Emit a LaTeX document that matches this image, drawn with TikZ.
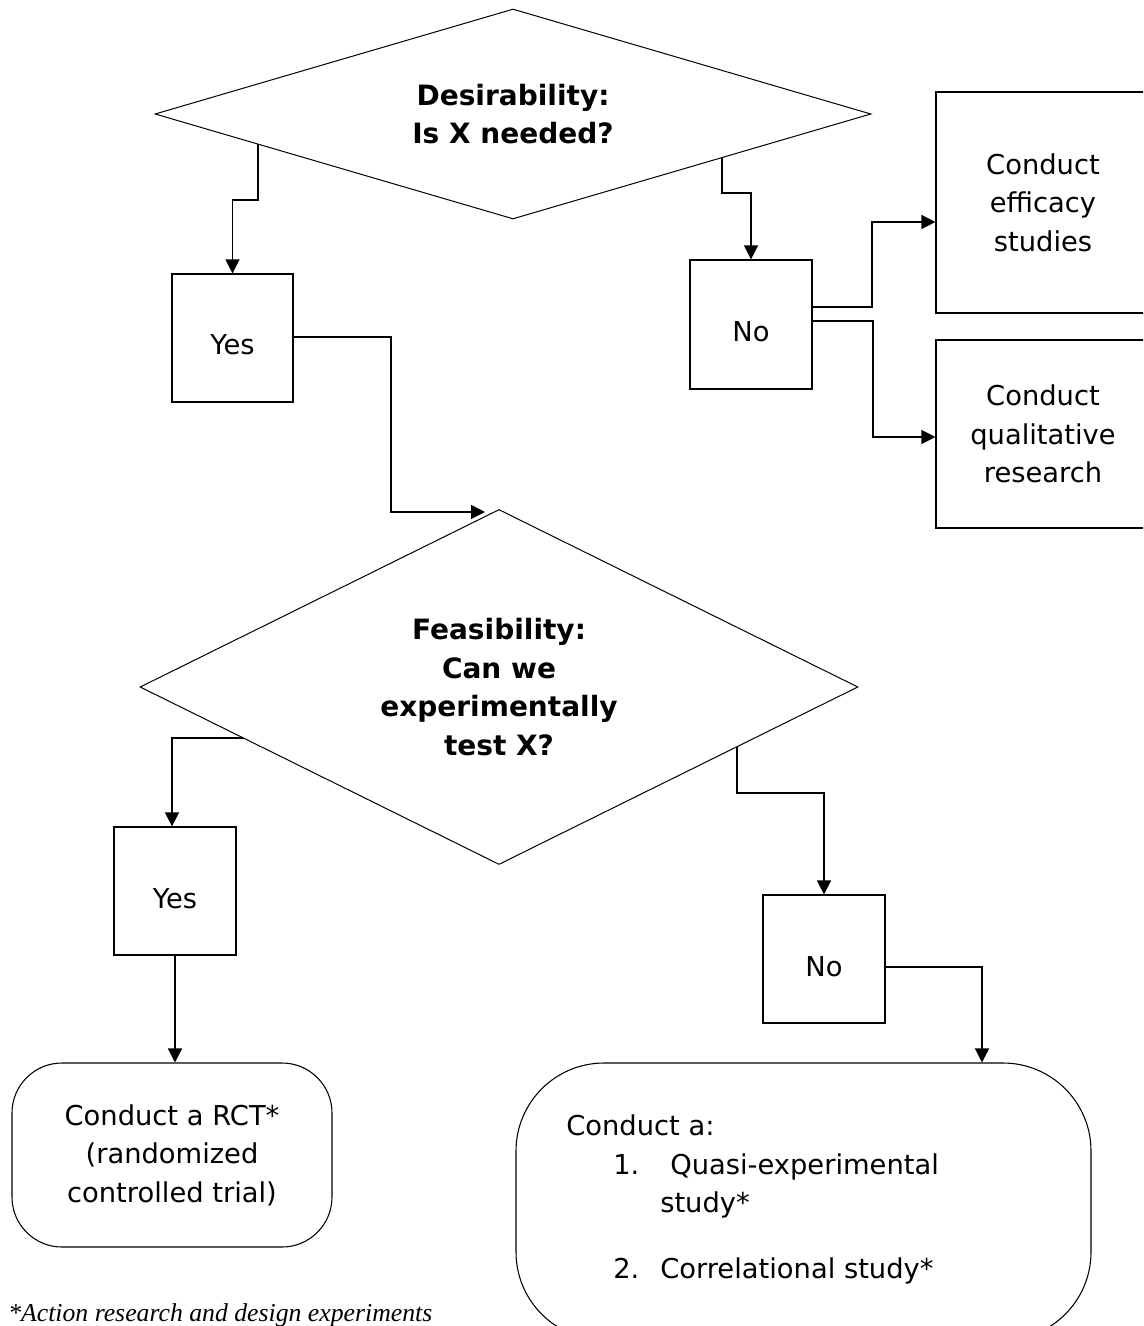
\documentclass[tikz,border=0pt]{standalone}
\usepackage{fontspec}
\setmainfont{DejaVu Sans}
\newfontfamily\footfont{Liberation Serif}
\usetikzlibrary{shapes.geometric,arrows.meta}
\pgfdeclarelayer{background}
\pgfsetlayers{background,main}
\tikzset{
  txt/.style={font=\fontsize{20.5pt}{28.9pt}\selectfont},
  boxA/.style={draw, line width=0.9pt, fill=white, inner sep=0pt, txt, align=center},
  single/.style={text height=25.5pt, text depth=0pt},
  dec/.style={diamond, draw, line width=0.75pt, fill=white, inner sep=0pt, align=center,
    font=\fontsize{21pt}{28.9pt}\selectfont\bfseries},
  term/.style={draw, line width=0.8pt, fill=white, inner sep=0pt, txt, align=center},
  arr/.style={line width=1.05pt, -{Triangle[length=10.5pt,width=10.5pt]}},
  plain/.style={txt, inner sep=0pt, anchor=base west},
}
\begin{document}
\begin{tikzpicture}[x=0.75pt, y=-0.75pt]
\useasboundingbox (0,0) rectangle (1143,1326);
\clip (0,0) rectangle (1143,1326);

% decisions
\node[dec, aspect=3.41, minimum width=537pt, minimum height=157.5pt] (d1) at (513,114) {Desirability:\\Is X needed?};
\node[dec, aspect=2.02, minimum width=538.5pt, minimum height=266.25pt] (d2) at (499,687) {Feasibility:\\Can we\\experimentally\\test X?};

% boxes
\node[boxA, single, minimum width=90.75pt, minimum height=96pt] (yes1) at (232.5,338) {Yes};
\node[boxA, single, minimum width=91.5pt, minimum height=96.75pt] (no1) at (751,324.5) {No};
\node[boxA, minimum width=160.5pt, minimum height=165.75pt] (eff) at (1043,202.5) {Conduct\\efficacy\\studies};
\node[boxA, minimum width=160.5pt, minimum height=141pt] (qual) at (1043,434) {Conduct\\qualitative\\research};
\node[boxA, single, minimum width=91.5pt, minimum height=96pt] (yes2) at (175,891) {Yes};
\node[boxA, single, minimum width=91.5pt, minimum height=96pt] (no2) at (824,959) {No};

% terminal boxes
\node[term, rounded corners=37.5pt, minimum width=240pt, minimum height=138pt] (rct) at (172,1155)
  {Conduct a RCT*\\(randomized\\controlled trial)};
\node[term, rounded corners=66pt, minimum width=431.25pt, minimum height=207.75pt] (big) at (803.5,1201.5) {};
\node[plain] (bt1) at (566,1135) {Conduct a:};
\node[plain] (bt2) at (613,1174) {1.};
\node[plain] (bt3) at (670,1174) {Quasi-experimental};
\node[plain] (bt4) at (660,1212) {study*};
\node[plain] (bt5) at (613,1278) {2.};
\node[plain] (bt6) at (660,1278) {Correlational study*};

% footnote
\node[inner sep=0pt, anchor=base west, font=\fontsize{19.3pt}{23pt}\footfont\itshape] (foot) at (8,1321)
  {*Action research and design experiments};

% bend points
\coordinate (k1) at (258,200);
\coordinate (k2) at (722,193);
\coordinate (p1) at (872,307);
\coordinate (p2) at (872,222);
\coordinate (p3) at (873,321);
\coordinate (p4) at (873,437);
\coordinate (p5) at (391,337);
\coordinate (p6) at (391,512);
\coordinate (p7) at (172,738);
\coordinate (p8) at (737,793);
\coordinate (p9) at (982,967);

\begin{pgfonlayer}{background}
\draw[arr] (d1.center -| k1) -- (k1) -| (yes1.north);
\draw[arr] (d1.center -| k2) -- (k2) -| (no1.north);
\draw[arr] (no1.east |- p1) -- (p1) -- (p2) -- (eff.west |- p2);
\draw[arr] (no1.east |- p3) -- (p3) -- (p4) -- (qual.west |- p4);
\draw[arr, shorten >=10.5pt] (yes1.east |- p5) -- (p5) -- (p6) -- (p6 -| d2.north);
\draw[arr] (d2.center |- p7) -- (p7) -- (p7 |- yes2.north);
\draw[arr] (yes2.south) -- (yes2.south |- rct.north);
\draw[arr] (d2.center -| p8) -- (p8) -| (no2.north);
\draw[arr] (no2.east |- p9) -- (p9) -- (p9 |- big.north);
\end{pgfonlayer}
\end{tikzpicture}
\end{document}
